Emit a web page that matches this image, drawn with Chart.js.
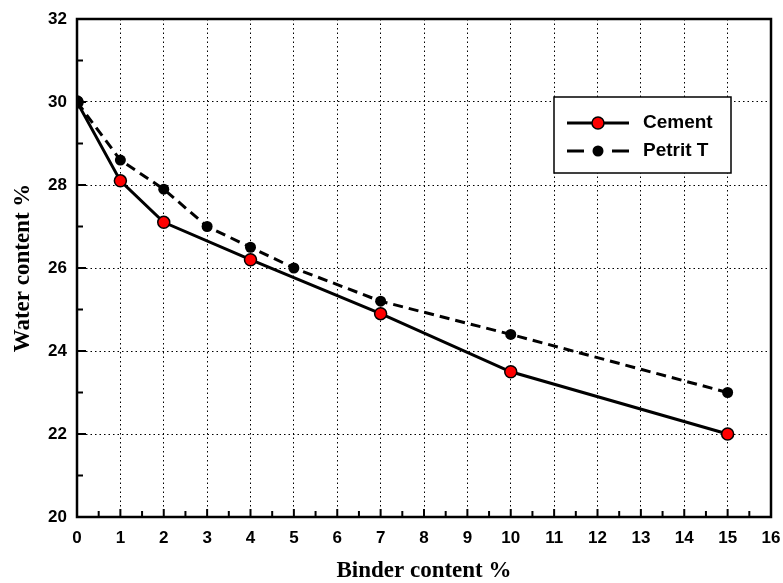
<!DOCTYPE html>
<html>
<head>
<meta charset="utf-8">
<script src="https://cdn.jsdelivr.net/npm/chart.js@4.4.1/dist/chart.umd.min.js"></script>
<style>
  html, body { margin: 0; padding: 0; background: #fff; }
  #wrap { width: 783px; height: 583px; }
</style>
</head>
<body>
<div id="wrap"><canvas id="chart"></canvas></div>
<script>
// ── Data ──────────────────────────────────────────────────
const cementBinder = [0, 1, 2, 4, 7, 10, 15];
const cementWater  = [30, 28.1, 27.1, 26.2, 24.9, 23.5, 22.0];
const petritBinder = [0, 1, 2, 3, 4, 5, 7, 10, 15];
const petritWater  = [30, 28.6, 27.9, 27.0, 26.5, 26.0, 25.2, 24.4, 23.0];
const xLimits = [0, 16];
const yLimits = [20, 32];
const seriesNames = ['Cement', 'Petrit T'];

const pairs = (xs, ys) => xs.map((x, i) => ({ x, y: ys[i] }));

const TICK_FONT  = { family: 'Liberation Sans', weight: 'bold', size: 17 };
const TITLE_FONT = { family: 'Liberation Serif', weight: 'bold', size: 23 };

// ── Frame + inward tick marks ─────────────────────────────
const framePlugin = {
  id: 'frame',
  afterDraw(chart) {
    const { ctx, chartArea: a, scales: { x, y } } = chart;
    ctx.save();
    ctx.strokeStyle = '#000';
    ctx.lineWidth = 2;
    ctx.beginPath();
    for (let v = xLimits[0]; v <= xLimits[1]; v += 0.5) {
      const px = x.getPixelForValue(v);
      const len = Number.isInteger(v) ? 8 : 6;
      ctx.moveTo(px, a.bottom);
      ctx.lineTo(px, a.bottom - len);
    }
    for (let v = yLimits[0]; v <= yLimits[1]; v += 1) {
      const py = y.getPixelForValue(v);
      const len = v % 2 === 0 ? 9 : 6;
      ctx.moveTo(a.left, py);
      ctx.lineTo(a.left + len, py);
    }
    ctx.stroke();
    ctx.lineWidth = 2.5;
    ctx.strokeRect(a.left, a.top, a.right - a.left, a.bottom - a.top);
    ctx.restore();
  }
};

// ── Boxed legend inside the plot ──────────────────────────
const boxLegend = {
  id: 'boxLegend',
  afterDraw(chart) {
    const { ctx } = chart;
    const box = { x: 554, y: 97, w: 177, h: 76 };
    ctx.save();
    ctx.fillStyle = '#fff';
    ctx.fillRect(box.x, box.y, box.w, box.h);
    ctx.strokeStyle = '#000';
    ctx.lineWidth = 1.5;
    ctx.strokeRect(box.x, box.y, box.w, box.h);

    chart.data.datasets.forEach((ds, i) => {
      const cy = 123 + i * 28;
      ctx.strokeStyle = ds.borderColor;
      ctx.lineWidth = ds.borderWidth;
      ctx.beginPath();
      if (ds.borderDash) {
        ctx.moveTo(567, cy); ctx.lineTo(584, cy);
        ctx.moveTo(612, cy); ctx.lineTo(629, cy);
      } else {
        ctx.moveTo(567, cy); ctx.lineTo(629, cy);
      }
      ctx.stroke();

      const r = i === 0 ? 6 : 5.5;
      ctx.beginPath();
      ctx.arc(598, cy, r, 0, Math.PI * 2);
      ctx.fillStyle = ds.pointBackgroundColor;
      ctx.fill();
      if (ds.pointBorderWidth) {
        ctx.lineWidth = ds.pointBorderWidth;
        ctx.strokeStyle = '#000';
        ctx.stroke();
      }

      ctx.fillStyle = '#000';
      ctx.font = 'bold 19px "Liberation Sans"';
      ctx.textBaseline = 'middle';
      ctx.textAlign = 'left';
      ctx.fillText(ds.label, 643, cy);
    });
    ctx.restore();
  }
};

new Chart(document.getElementById('chart'), {
  type: 'line',
  data: {
    datasets: [
      {
        label: seriesNames[0],
        data: pairs(cementBinder, cementWater),
        order: 1,
        borderColor: '#000', borderWidth: 3,
        pointRadius: 6, pointBorderWidth: 1.5,
        pointBackgroundColor: '#ff0000', pointBorderColor: '#000',
        tension: 0, fill: false,
      },
      {
        label: seriesNames[1],
        data: pairs(petritBinder, petritWater),
        order: 0,
        borderColor: '#000', borderWidth: 3, borderDash: [10, 6],
        pointRadius: ctx => ctx.dataIndex === 0 ? 6.5 : 5.5,
        pointBorderWidth: 0,
        pointBackgroundColor: '#000', pointBorderColor: '#000',
        tension: 0, fill: false,
      },
    ],
  },
  options: {
    responsive: true, maintainAspectRatio: false,
    devicePixelRatio: 1,
    animation: false,
    layout: { padding: { top: 19, right: 12, left: 0, bottom: 0 } },
    plugins: { legend: { display: false }, tooltip: { enabled: false } },
    scales: {
      x: {
        type: 'linear', min: xLimits[0], max: xLimits[1],
        afterFit: s => { s.height = 66; s.paddingLeft = 0; s.paddingRight = 0; },
        ticks: { stepSize: 1, color: '#000', font: TICK_FONT, padding: 11, maxRotation: 0, autoSkip: false },
        grid:  { color: '#000', lineWidth: 1, drawTicks: false },
        border: { display: false, dash: [1.5, 3] },
        title: { display: true, text: 'Binder content %', color: '#000', font: TITLE_FONT, padding: { top: 0, bottom: -2 } },
      },
      y: {
        type: 'linear', min: yLimits[0], max: yLimits[1],
        afterFit: s => { s.width = 77; s.paddingTop = 0; s.paddingBottom = 0; },
        ticks: { stepSize: 2, color: '#000', font: TICK_FONT, padding: 10 },
        grid:  { color: '#000', lineWidth: 1, drawTicks: false },
        border: { display: false, dash: [1.5, 3] },
        title: { display: true, text: 'Water content %', color: '#000', font: TITLE_FONT, padding: { top: 9, bottom: 0 } },
      },
    },
  },
  plugins: [framePlugin, boxLegend],
});
</script>
</body>
</html>
